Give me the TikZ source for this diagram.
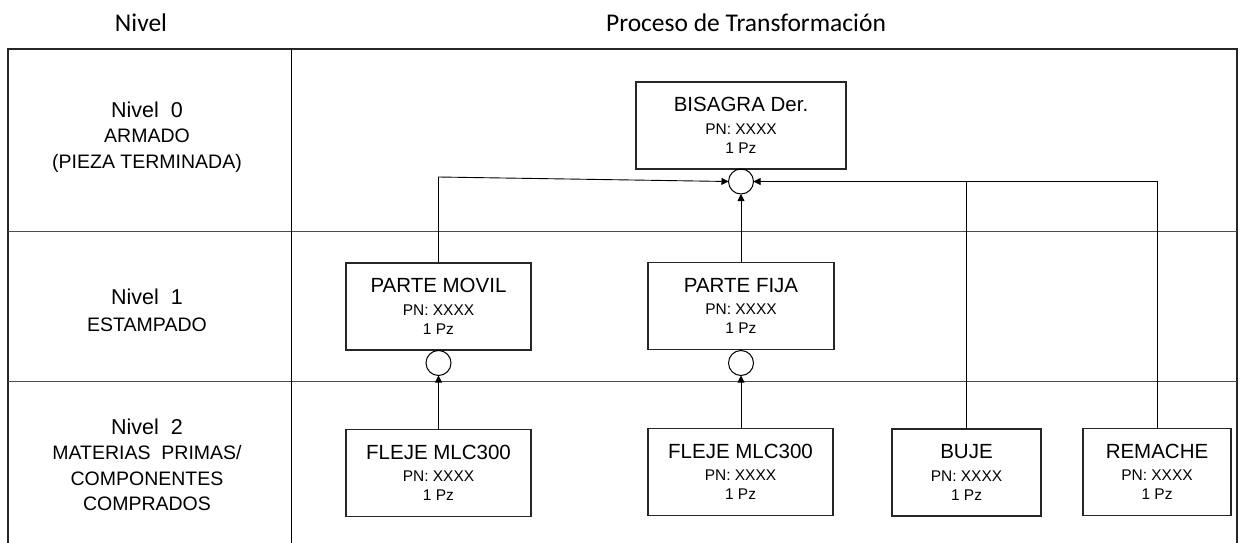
\documentclass[tikz,border=0pt]{standalone}
\usepackage{fontspec}
\setmainfont{Liberation Sans}
\newfontfamily\hdrfont{Carlito}
\usetikzlibrary{arrows.meta}

% text sizes
\newcommand\ttl{\fontsize{20.5}{19}\selectfont}
\newcommand\sub{\fontsize{15.5}{19}\selectfont}
\newcommand\lvl{\fontsize{21.5}{25.5}\selectfont}
\newcommand\lvlsub{\fontsize{19.5}{25.5}\selectfont}

\begin{document}
\begin{tikzpicture}[x=1pt,y=-1pt,
  every node/.style={inner sep=0pt, outer sep=0pt},
  part/.style={draw=black!85, line width=1.3pt, minimum height=87pt, align=center, font=\sub},
  level/.style={align=center, font=\lvlsub},
  header/.style={font=\hdrfont\fontsize{25.5}{30}\selectfont},
  grid/.style={line width=1pt, draw=black!70},
  frame/.style={line width=1.8pt, draw=black!85},
  joint/.style={draw=black, line width=1pt, circle, minimum size=25pt},
  link/.style={draw=black, line width=0.9pt},
  feed/.style={link, -{Triangle[length=7pt,width=7pt]}}]

\useasboundingbox (0,0) rectangle (1240,543);

% headers
\node[header] (hnivel) at (141,23) {Nivel};
\node[header] (hproc) at (746,23) {Proceso de Transformación};

% table
\draw[frame] (8,543) -- (8,49) -- (1237,49) -- (1237,543);
\draw[grid] (8,231) -- (1237,231);
\draw[grid] (8,381) -- (1237,381);
\draw[link] (291,49) -- (291,543);

% level descriptions
\node[level] (lv0) at (147,137) {\lvl Nivel~~0\\ ARMADO\\ (PIEZA TERMINADA)};
\node[level] (lv1) at (147,310) {\lvl Nivel~~1\\[1.5pt] ESTAMPADO};
\node[level] (lv2) at (147,465) {\lvl Nivel~~2\\ MATERIAS~~PRIMAS/\\ COMPONENTES\\ COMPRADOS};

% parts
\node[part, minimum width=210pt] (bis) at (741,125.5) {\ttl BISAGRA Der.\\[3.5pt] PN: XXXX\\ 1 Pz};
\node[part, minimum width=185pt] (pm) at (438.5,306.5) {\ttl PARTE MOVIL\\[3.5pt] PN: XXXX\\ 1 Pz};
\node[part, minimum width=186pt] (pf) at (741,306) {\ttl PARTE FIJA\\[3.5pt] PN: XXXX\\ 1 Pz};
\node[part, minimum width=185pt] (fl1) at (438.5,473) {\ttl FLEJE MLC300\\[3.5pt] PN: XXXX\\ 1 Pz};
\node[part, minimum width=185pt] (fl2) at (740.5,472) {\ttl FLEJE MLC300\\[3.5pt] PN: XXXX\\ 1 Pz};
\node[part, minimum width=149pt] (buje) at (966.5,472.5) {\ttl BUJE\\[3.5pt] PN: XXXX\\ 1 Pz};
\node[part, minimum width=148pt] (rem) at (1157,472) {\ttl REMACHE\\[3.5pt] PN: XXXX\\ 1 Pz};

% operation circles
\node[joint] (c0) at (741,181.5) {};
\node[joint] (cpm) at (438.5,363) {};
\node[joint] (cpf) at (741,363) {};

% connectors
\coordinate (pmturn) at (438.5,177);
\draw[feed] (fl1.north) -- (cpm.south);
\draw[feed] (fl2.north -| cpf.south) -- (cpf.south);
\draw[feed] (pf.north) -- (c0.south);
\draw[feed] (pm.north) -- (pmturn) -- (c0.west);
\draw[feed] (rem.north) |- (c0.east);
\draw[link] (buje.north) -- (buje.north |- c0.east);

\end{tikzpicture}
\end{document}
